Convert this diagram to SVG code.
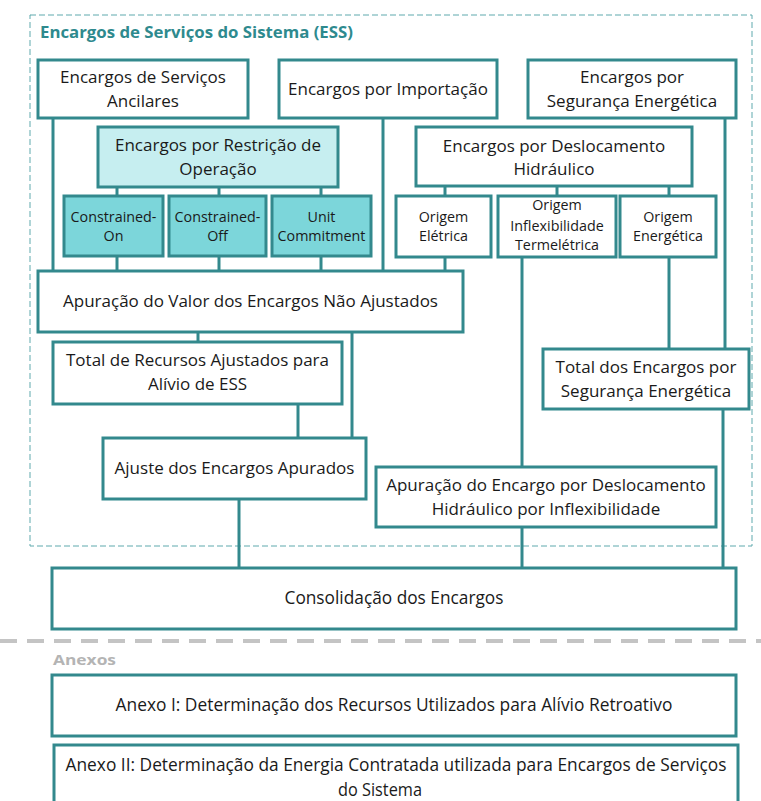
<svg xmlns="http://www.w3.org/2000/svg" width="761" height="801" viewBox="0 0 761 801">
<style>
.bx{fill:#ffffff;stroke:#33898d;stroke-width:3}
.lt{fill:#c6eef0;stroke:#33898d;stroke-width:3}
.dk{fill:#7cd6da;stroke:#33898d;stroke-width:3}
.cn{stroke:#33898d;stroke-width:3;fill:none}
text{font-family:"Open Sans","Liberation Sans",sans-serif;fill:#1a1a1a;text-anchor:middle}
.t{font-size:17px}
.s{font-size:14.3px}
.c{font-size:17.5px}
</style>
<rect width="761" height="801" fill="#ffffff"/>
<g id="ess-frame">
<rect x="30" y="15" width="722" height="531" fill="none" stroke="#5fa9ad" stroke-width="1" stroke-dasharray="6,3"/>
<text x="40" y="38" style="font-size:16.8px;font-weight:bold;fill:#2e8a8e;text-anchor:start">Encargos de Serviços do Sistema (ESS)</text>
</g>
<g id="connectors">
<line class="cn" x1="53" y1="118" x2="53" y2="271"/>
<line class="cn" x1="383" y1="118" x2="383" y2="271"/>
<line class="cn" x1="117" y1="187" x2="117" y2="196"/>
<line class="cn" x1="219" y1="187" x2="219" y2="196"/>
<line class="cn" x1="321" y1="187" x2="321" y2="196"/>
<line class="cn" x1="117" y1="256" x2="117" y2="271"/>
<line class="cn" x1="219" y1="256" x2="219" y2="271"/>
<line class="cn" x1="321" y1="256" x2="321" y2="271"/>
<line class="cn" x1="445" y1="186" x2="445" y2="196"/>
<line class="cn" x1="557" y1="186" x2="557" y2="196"/>
<line class="cn" x1="669" y1="186" x2="669" y2="196"/>
<line class="cn" x1="445" y1="257" x2="445" y2="271"/>
<line class="cn" x1="522" y1="257" x2="522" y2="467"/>
<line class="cn" x1="669" y1="257" x2="669" y2="349"/>
<line class="cn" x1="725" y1="118" x2="725" y2="349"/>
<line class="cn" x1="198" y1="332" x2="198" y2="342"/>
<line class="cn" x1="352" y1="332" x2="352" y2="438"/>
<line class="cn" x1="298" y1="404" x2="298" y2="438"/>
<line class="cn" x1="239" y1="499" x2="239" y2="568"/>
<line class="cn" x1="522" y1="527" x2="522" y2="568"/>
<line class="cn" x1="723" y1="409" x2="723" y2="568"/>
</g>
<g id="n-ancilares">
<rect class="bx" x="38" y="60" width="210" height="58"/>
<text class="t" x="143" y="83">Encargos de Serviços</text>
<text class="t" x="143" y="107">Ancilares</text>
</g>
<g id="n-importacao">
<rect class="bx" x="279" y="60" width="218" height="58"/>
<text class="t" x="388" y="95">Encargos por Importação</text>
</g>
<g id="n-seguranca">
<rect class="bx" x="528" y="60" width="208" height="58"/>
<text class="t" x="632" y="83">Encargos por</text>
<text class="t" x="632" y="107">Segurança Energética</text>
</g>
<g id="n-restricao">
<rect class="lt" x="98" y="127" width="240" height="60"/>
<text class="t" x="218" y="151">Encargos por Restrição de</text>
<text class="t" x="218" y="175">Operação</text>
</g>
<g id="n-con">
<rect class="dk" x="64" y="196" width="99" height="60"/>
<text class="s" x="113.5" y="222">Constrained-</text>
<text class="s" x="113.5" y="241">On</text>
</g>
<g id="n-coff">
<rect class="dk" x="169" y="196" width="97" height="60"/>
<text class="s" x="217.5" y="222">Constrained-</text>
<text class="s" x="217.5" y="241">Off</text>
</g>
<g id="n-uc">
<rect class="dk" x="272" y="196" width="99" height="60"/>
<text class="s" x="321.5" y="222">Unit</text>
<text class="s" x="321.5" y="241">Commitment</text>
</g>
<g id="n-deslocamento">
<rect class="bx" x="416" y="127" width="276" height="59"/>
<text class="t" x="554" y="152">Encargos por Deslocamento</text>
<text class="t" x="554" y="175">Hidráulico</text>
</g>
<g id="n-eletrica">
<rect class="bx" x="396" y="196" width="95" height="61"/>
<text class="s" x="443.5" y="222">Origem</text>
<text class="s" x="443.5" y="241">Elétrica</text>
</g>
<g id="n-inflex">
<rect class="bx" x="498" y="196" width="118" height="61"/>
<text class="s" x="557" y="210">Origem</text>
<text class="s" x="557" y="231">Inflexibilidade</text>
<text class="s" x="557" y="250">Termelétrica</text>
</g>
<g id="n-energetica">
<rect class="bx" x="620" y="196" width="96" height="61"/>
<text class="s" x="668" y="222">Origem</text>
<text class="s" x="668" y="241">Energética</text>
</g>
<g id="n-apuracao">
<rect class="bx" x="38" y="271" width="425" height="61"/>
<text class="t" x="250.5" y="307">Apuração do Valor dos Encargos Não Ajustados</text>
</g>
<g id="n-total-recursos">
<rect class="bx" x="53" y="342" width="289" height="62"/>
<text class="t" x="197.5" y="366">Total de Recursos Ajustados para</text>
<text class="t" x="197.5" y="390">Alívio de ESS</text>
</g>
<g id="n-ajuste">
<rect class="bx" x="103" y="438" width="263" height="61"/>
<text class="t" x="234.5" y="474">Ajuste dos Encargos Apurados</text>
</g>
<g id="n-total-seguranca">
<rect class="bx" x="543" y="349" width="206" height="60"/>
<text class="t" x="646" y="373">Total dos Encargos por</text>
<text class="t" x="646" y="397">Segurança Energética</text>
</g>
<g id="n-apuracao-desloc">
<rect class="bx" x="376" y="467" width="340" height="60"/>
<text class="t" x="546" y="491">Apuração do Encargo por Deslocamento</text>
<text class="t" x="546" y="515">Hidráulico por Inflexibilidade</text>
</g>
<g id="n-consolidacao">
<rect class="bx" x="52" y="568" width="684" height="61"/>
<text class="c" x="394" y="604" textLength="219" lengthAdjust="spacingAndGlyphs">Consolidação dos Encargos</text>
</g>
<g id="anexos-sep">
<line x1="0" y1="641" x2="761" y2="641" stroke="#c4c4c4" stroke-width="4" stroke-dasharray="17,10"/>
<text x="53" y="665" style="font-size:15px;font-weight:bold;fill:#b4b4b4;text-anchor:start" textLength="63" lengthAdjust="spacingAndGlyphs">Anexos</text>
</g>
<g id="n-anexo1">
<rect class="bx" x="52" y="675" width="684" height="61"/>
<text class="c" x="394" y="711" textLength="557" lengthAdjust="spacingAndGlyphs">Anexo I: Determinação dos Recursos Utilizados para Alívio Retroativo</text>
</g>
<g id="n-anexo2">
<rect class="bx" x="54" y="745" width="684" height="70"/>
<text class="c" x="396" y="771" textLength="661" lengthAdjust="spacingAndGlyphs">Anexo II: Determinação da Energia Contratada utilizada para Encargos de Serviços</text>
<text class="c" x="380" y="796" textLength="84" lengthAdjust="spacingAndGlyphs">do Sistema</text>
</g>
</svg>
